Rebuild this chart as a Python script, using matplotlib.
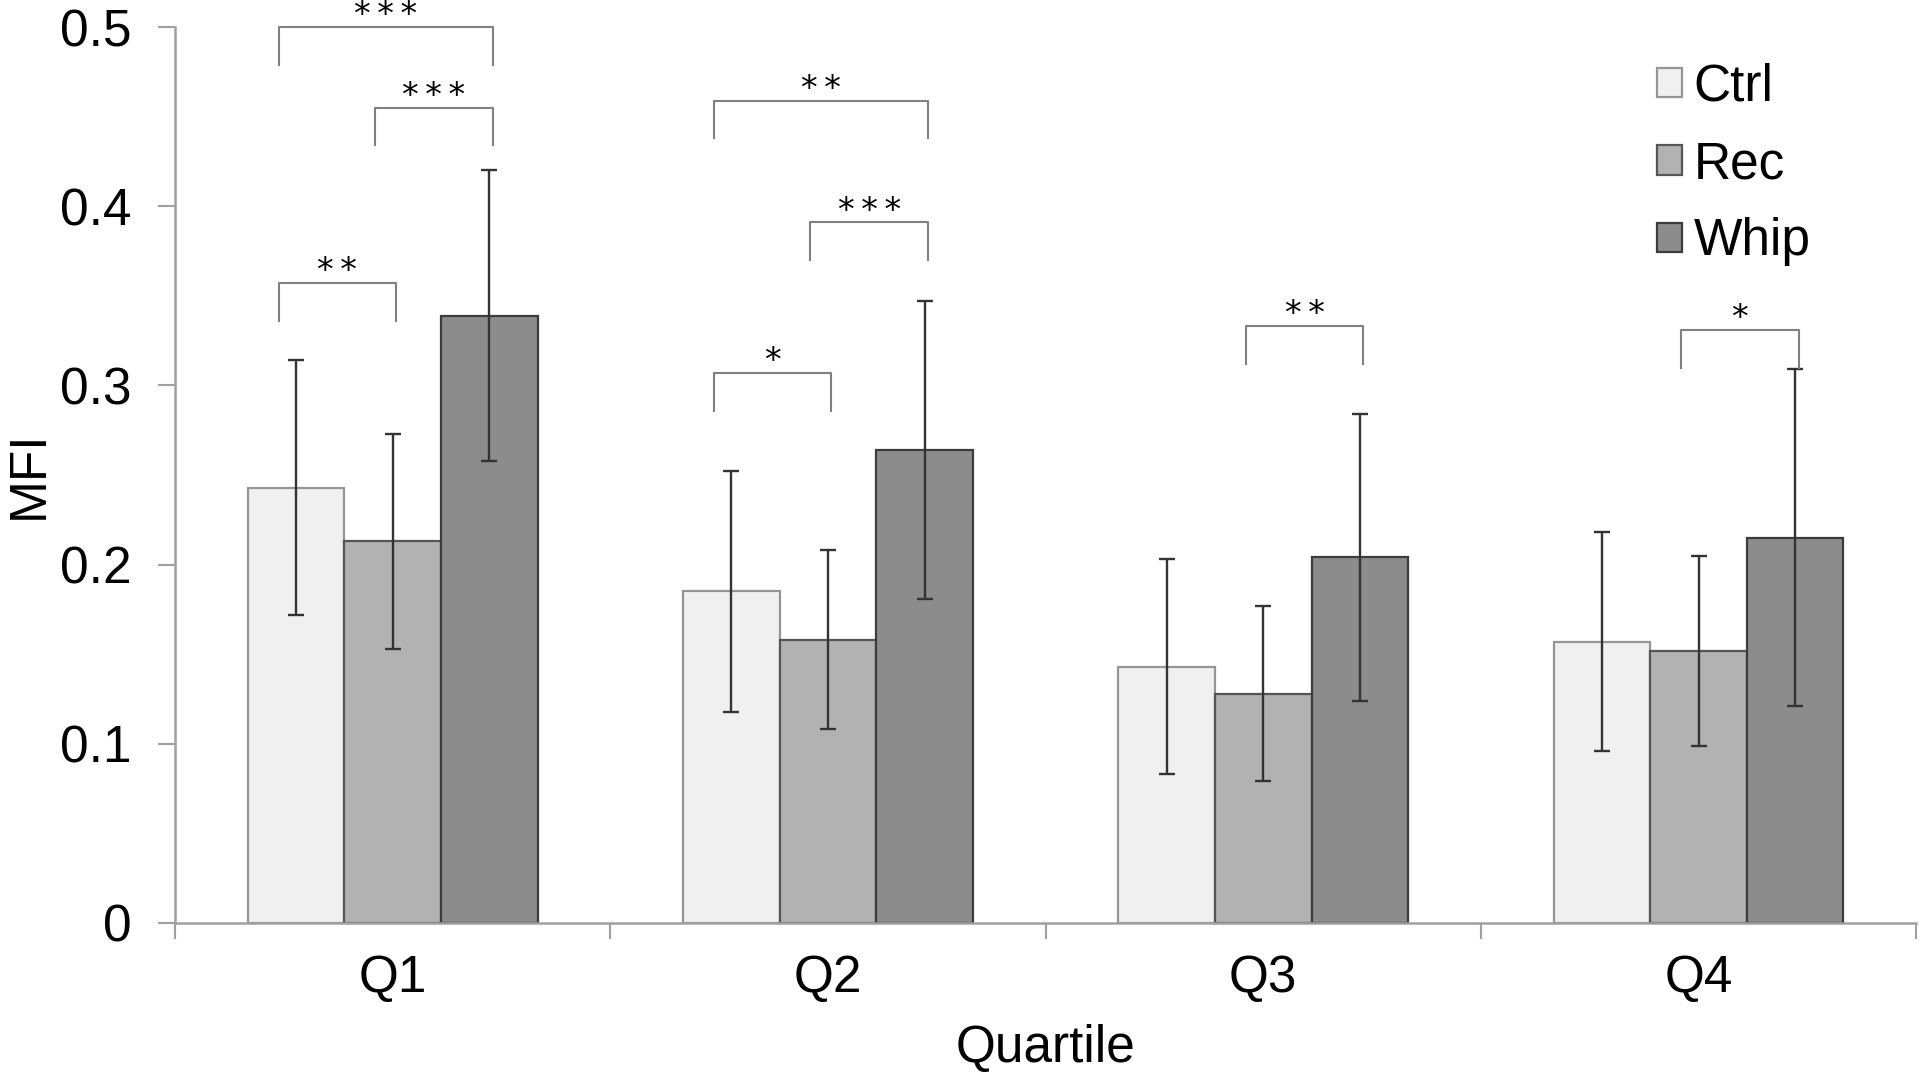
import matplotlib
matplotlib.use('Agg')
from matplotlib import pyplot as plt
from matplotlib.patches import Patch
import numpy as np

plt.rcParams['font.family'] = ['Liberation Sans', 'DejaVu Sans']

# data
quartiles = ['Q1', 'Q2', 'Q3', 'Q4']
groups = ['Ctrl', 'Rec', 'Whip']
ctrl_mean = [0.243, 0.185, 0.143, 0.157]
ctrl_sd   = [0.071, 0.067, 0.060, 0.061]
rec_mean  = [0.213, 0.158, 0.128, 0.152]
rec_sd    = [0.060, 0.050, 0.049, 0.053]
whip_mean = [0.339, 0.264, 0.204, 0.215]
whip_sd   = [0.081, 0.083, 0.080, 0.094]
yticks = [0, 0.1, 0.2, 0.3, 0.4, 0.5]
ytick_labels = ['0', '0.1', '0.2', '0.3', '0.4', '0.5']

# significance brackets: quartile, bar i, bar j, height, label
sig_q     = [0, 0, 0, 1, 1, 1, 2, 3]
sig_i     = [0, 1, 0, 0, 1, 0, 1, 1]
sig_j     = [1, 2, 2, 1, 2, 2, 2, 2]
sig_y     = [0.357, 0.455, 0.500, 0.307, 0.391, 0.459, 0.333, 0.331]
sig_label = ['**', '***', '***', '*', '***', '**', '**', '*']

fill = ['#f0f0f0', '#b2b2b2', '#8c8c8c']
edge = ['#959595', '#555555', '#3c3c3c']
width = 0.222
fs = 37

fig = plt.figure(figsize=(19.2, 10.73), dpi=100)
ax = fig.add_axes([0.0911, 0.1398, 0.9069, 0.835])

x = np.arange(len(quartiles))
means = [ctrl_mean, rec_mean, whip_mean]
sds = [ctrl_sd, rec_sd, whip_sd]
for k in range(3):
    xpos = x + (k - 1) * width
    ax.bar(xpos, means[k], width, color=fill[k], edgecolor=edge[k],
           linewidth=1.6, label=groups[k], zorder=2)
    ax.errorbar(xpos, means[k], yerr=sds[k], fmt='none', ecolor='#333333',
                elinewidth=1.7, capsize=5.5, capthick=1.7, zorder=3)

# brackets with stars
drop = 0.021
for q, i, j, y, lab in zip(sig_q, sig_i, sig_j, sig_y, sig_label):
    x1 = q + (i - 1) * width - 0.04
    x2 = q + (j - 1) * width + 0.008
    ax.plot([x1, x1, x2, x2], [y - drop, y, y, y - drop], color='#808080',
            lw=1.5, clip_on=False, zorder=4, solid_joinstyle='round')
    ax.text((x1 + x2) / 2, y + 0.001, '\u2009'.join(lab), ha='center',
            va='baseline', fontsize=24, family='DejaVu Sans', clip_on=False)

ax.set_xlim(-0.5, 3.5)
ax.set_ylim(0, 0.5)
ax.set_yticks(yticks)
ax.set_yticklabels(ytick_labels, fontsize=fs)
ax.set_xticks(x)
ax.set_xticklabels(quartiles, fontsize=fs)
ax.set_xticks(np.arange(-0.5, 4.0, 1.0), minor=True)
ax.tick_params(axis='x', which='major', length=0, pad=22)
ax.tick_params(axis='x', which='minor', length=11.5, width=1.5, color='#a0a0a0')
ax.tick_params(axis='y', length=12, width=1.5, color='#a0a0a0', pad=19)

for s in ['top', 'right']:
    ax.spines[s].set_visible(False)
for s in ['left', 'bottom']:
    ax.spines[s].set_color('#a0a0a0')
    ax.spines[s].set_linewidth(1.8)

ax.set_xlabel('Quartile', fontsize=fs)
ax.xaxis.set_label_coords(0.5, -0.1406)
ax.xaxis.label.set_verticalalignment('center')
ax.set_ylabel('MFI', fontsize=fs)
ax.yaxis.set_label_coords(-0.0835, 0.5)
ax.yaxis.label.set_verticalalignment('center')

handles = [Patch(facecolor=fill[k], edgecolor=edge[k], linewidth=1.6)
           for k in range(3)]
ax.legend(handles, groups, loc='upper left', bbox_to_anchor=(0.851, 0.960),
          frameon=False, fontsize=fs, handlelength=0.5, handleheight=0.5,
          handletextpad=0.22, labelspacing=0.55, borderaxespad=0, borderpad=0)

fig.savefig('out.png', dpi=100)
